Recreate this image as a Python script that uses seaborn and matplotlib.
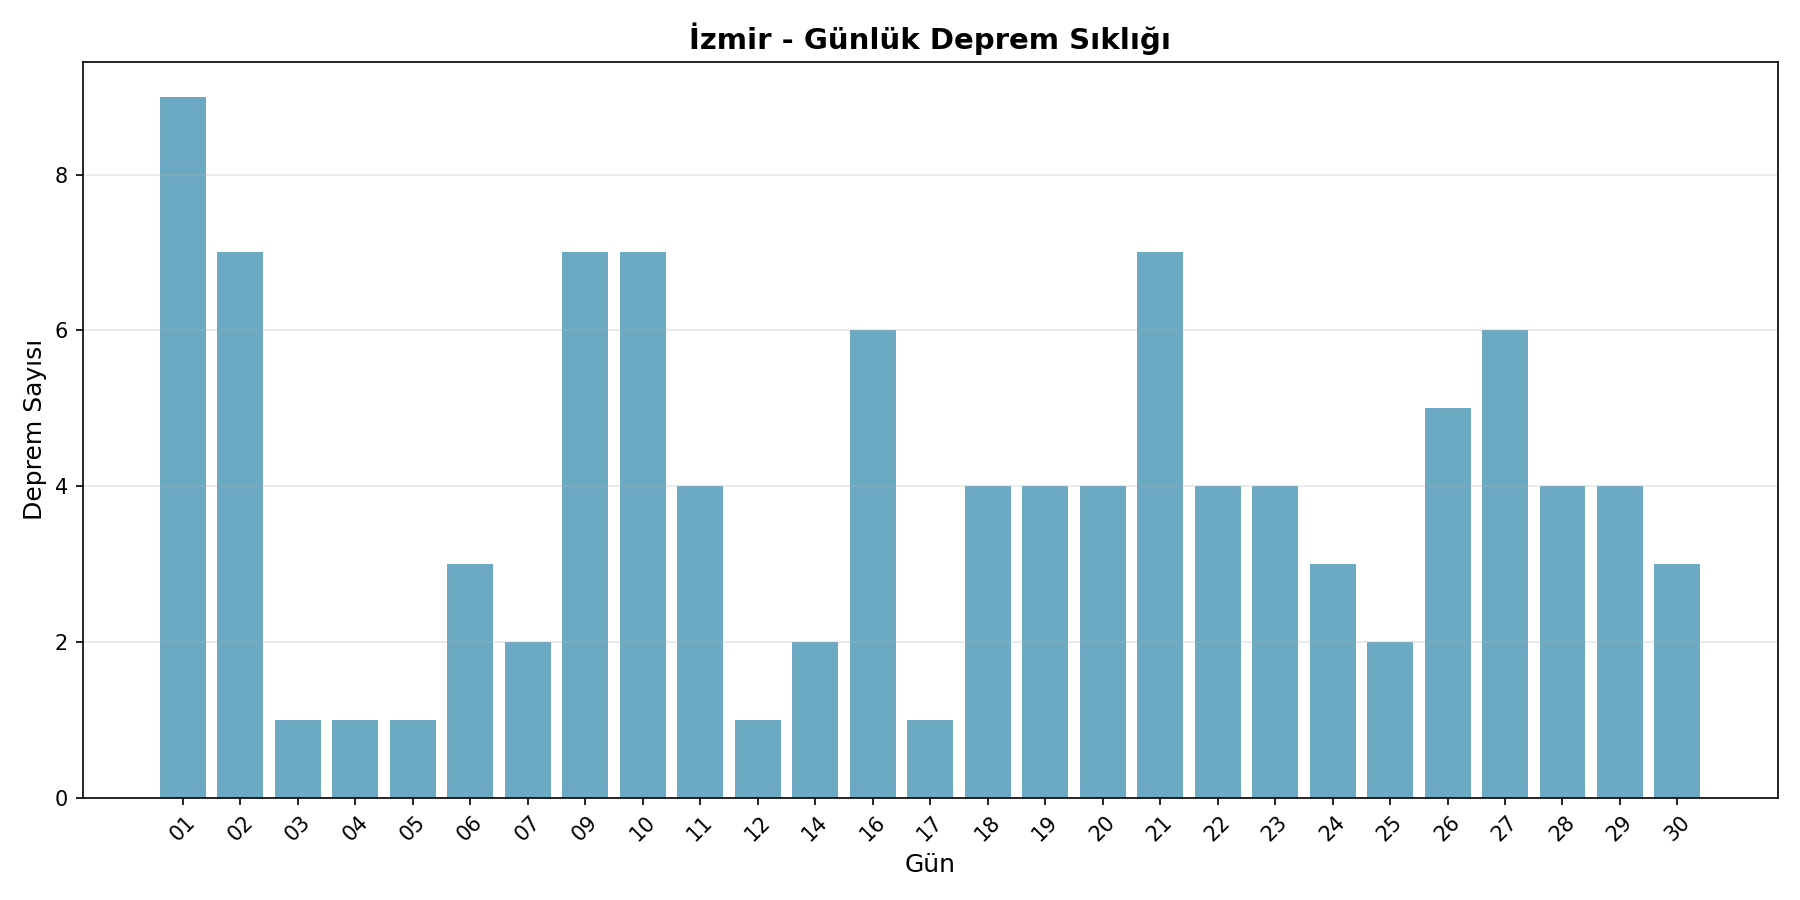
import matplotlib
matplotlib.use("Agg")
import matplotlib.pyplot as plt
import seaborn as sns
import pandas as pd

# Daily earthquake counts for Izmir
days = ["01", "02", "03", "04", "05", "06", "07", "09", "10", "11", "12", "14",
        "16", "17", "18", "19", "20", "21", "22", "23", "24", "25", "26", "27",
        "28", "29", "30"]
counts = [9, 7, 1, 1, 1, 3, 2, 7, 7, 4, 1, 2, 6, 1, 4, 4, 4, 7, 4, 4, 3, 2, 5,
          6, 4, 4, 3]

df = pd.DataFrame({"Gün": days, "Deprem Sayısı": counts})

plt.rcParams["font.family"] = ["DejaVu Sans"]

fig, ax = plt.subplots(figsize=(12, 6), dpi=150)
sns.barplot(data=df, x="Gün", y="Deprem Sayısı", color="#2E86AB", alpha=0.7,
            width=0.8, saturation=1, linewidth=0, ax=ax)

n = len(days)
pad = 0.05 * (n - 1 + 0.8)
ax.set_xlim(-0.4 - pad, n - 1 + 0.4 + pad)
ax.set_ylim(0, max(counts) * 1.05)

ax.set_title("İzmir - Günlük Deprem Sıklığı", fontsize=14, fontweight="bold")
ax.set_xlabel("Gün", fontsize=12)
ax.set_ylabel("Deprem Sayısı", fontsize=12)
plt.xticks(rotation=45)
ax.grid(True, axis="y", alpha=0.3)

plt.tight_layout()
plt.savefig("out.png", dpi=150)
